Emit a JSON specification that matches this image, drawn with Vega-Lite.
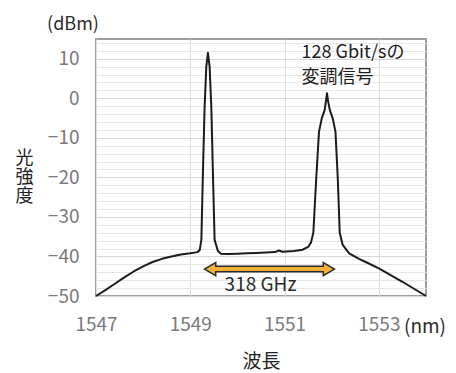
{
  "$schema": "https://vega.github.io/schema/vega-lite/v6.json",
  "width": 330,
  "height": 257,
  "autosize": "none",
  "padding": {"left": 96, "top": 39, "right": 30, "bottom": 77},
  "config": {
    "font": "Noto Sans CJK JP",
    "view": {"stroke": "#9e9e9e", "strokeWidth": 2},
    "axis": {"domain": false, "ticks": false, "labelFont": "Noto Sans CJK JP", "titleFont": "Noto Sans CJK JP", "labelColor": "#7a7a7a", "titleColor": "#222222", "titleFontWeight": "normal"}
  },
  "datasets": {
    "spectrum": [
      {"nm": 1547.0, "dB": -50.0},
      {"nm": 1547.2, "dB": -48.5},
      {"nm": 1547.4, "dB": -46.9},
      {"nm": 1547.6, "dB": -45.3},
      {"nm": 1547.8, "dB": -43.8},
      {"nm": 1548.0, "dB": -42.5},
      {"nm": 1548.2, "dB": -41.4},
      {"nm": 1548.4, "dB": -40.6},
      {"nm": 1548.6, "dB": -40.0},
      {"nm": 1548.8, "dB": -39.5},
      {"nm": 1549.0, "dB": -39.2},
      {"nm": 1549.15, "dB": -38.9},
      {"nm": 1549.2, "dB": -38.4},
      {"nm": 1549.235, "dB": -35.8},
      {"nm": 1549.268, "dB": -18.9},
      {"nm": 1549.304, "dB": -2.1},
      {"nm": 1549.34, "dB": 8.0},
      {"nm": 1549.374, "dB": 11.5},
      {"nm": 1549.41, "dB": 8.0},
      {"nm": 1549.446, "dB": -2.1},
      {"nm": 1549.48, "dB": -18.9},
      {"nm": 1549.516, "dB": -35.8},
      {"nm": 1549.586, "dB": -38.6},
      {"nm": 1549.65, "dB": -39.3},
      {"nm": 1549.8, "dB": -39.4},
      {"nm": 1550.0, "dB": -39.3},
      {"nm": 1550.2, "dB": -39.2},
      {"nm": 1550.4, "dB": -39.1},
      {"nm": 1550.6, "dB": -39.0},
      {"nm": 1550.8, "dB": -38.9},
      {"nm": 1550.88, "dB": -38.5},
      {"nm": 1550.95, "dB": -38.8},
      {"nm": 1551.2, "dB": -38.6},
      {"nm": 1551.38, "dB": -38.3},
      {"nm": 1551.5, "dB": -37.6},
      {"nm": 1551.56, "dB": -36.5},
      {"nm": 1551.61, "dB": -34.0},
      {"nm": 1551.67, "dB": -20.6},
      {"nm": 1551.73, "dB": -8.5},
      {"nm": 1551.79, "dB": -5.0},
      {"nm": 1551.85, "dB": -3.0},
      {"nm": 1551.88, "dB": -0.5},
      {"nm": 1551.9, "dB": 1.3},
      {"nm": 1551.92, "dB": -0.5},
      {"nm": 1551.96, "dB": -3.0},
      {"nm": 1552.02, "dB": -5.0},
      {"nm": 1552.08, "dB": -8.5},
      {"nm": 1552.13, "dB": -20.6},
      {"nm": 1552.17, "dB": -34.0},
      {"nm": 1552.23, "dB": -37.0},
      {"nm": 1552.37, "dB": -39.2},
      {"nm": 1552.58, "dB": -40.6},
      {"nm": 1552.72, "dB": -41.4},
      {"nm": 1553.0, "dB": -43.0},
      {"nm": 1553.5, "dB": -46.4},
      {"nm": 1554.0, "dB": -50.0}
    ],
    "arrow": [{"nm": 1549.45, "nm2": 1551.91, "dB": -43.2}],
    "heads": [
      {"nm": 1549.42, "dB": -43.2, "dir": "left"},
      {"nm": 1551.94, "dB": -43.2, "dir": "right"}
    ],
    "notes": [
      {"nm": 1551.36, "dB": 11.5, "label": "128 Gbit/sの"},
      {"nm": 1551.36, "dB": 5.1, "label": "変調信号"}
    ],
    "ghz": [{"nm": 1550.49, "dB": -47.2, "label": "318 GHz"}],
    "dbm": [{"nm": 1547.0, "dB": 15.0, "label": "(dBm)"}],
    "nmunit": [{"nm": 1554.0, "dB": -50.0, "label": "(nm)"}]
  },
  "encoding": {
    "x": {
      "field": "nm",
      "type": "quantitative",
      "scale": {"domain": [1547, 1554], "nice": false, "zero": false},
      "axis": {
        "title": "波長",
        "values": [1547, 1549, 1551, 1553],
        "format": "d",
        "labelFontSize": 19,
        "labelPadding": 19,
        "labelFlush": false,
        "titleFontSize": 19,
        "titlePadding": 18,
        "gridColor": "#dcdcdc",
        "gridWidth": 1
      }
    },
    "y": {
      "field": "dB",
      "type": "quantitative",
      "scale": {"domain": [-50, 15], "nice": false, "zero": false},
      "axis": {
        "title": ["光", "強", "度"],
        "titleAngle": 0,
        "titleAlign": "center",
        "titleBaseline": "top",
        "titleX": -72,
        "titleY": 110,
        "titleFontSize": 18,
        "titleLineHeight": 19,
        "values": [-50, -48, -46, -44, -42, -40, -38, -36, -34, -32, -30, -28, -26, -24, -22, -20, -18, -16, -14, -12, -10, -8, -6, -4, -2, 0, 2, 4, 6, 8, 10, 12, 14],
        "labelExpr": "datum.value % 10 === 0 ? datum.label : ''",
        "labelOverlap": false,
        "labelFlush": false,
        "labelFontSize": 19,
        "labelPadding": 17,
        "gridColor": {"condition": {"test": "datum.value % 10 === 0", "value": "#d6d6d6"}, "value": "#e6e6e6"},
        "gridWidth": 1
      }
    }
  },
  "layer": [
    {
      "data": {"name": "spectrum"},
      "mark": {"type": "line", "color": "#1c1c1c", "strokeWidth": 2, "strokeJoin": "round"}
    },
    {
      "data": {"name": "arrow"},
      "mark": {"type": "rule", "color": "#2a2a2a", "strokeWidth": 7},
      "encoding": {"x2": {"field": "nm2"}}
    },
    {
      "data": {"name": "heads"},
      "mark": {"type": "point", "filled": true, "fill": "#f3b138", "stroke": "#2a2a2a", "strokeWidth": 1.5, "opacity": 1, "size": 170},
      "encoding": {
        "shape": {"field": "dir", "type": "nominal", "scale": {"domain": ["left", "right"], "range": ["triangle-left", "triangle-right"]}, "legend": null}
      }
    },
    {
      "data": {"name": "arrow"},
      "mark": {"type": "rule", "color": "#f3b138", "strokeWidth": 4},
      "encoding": {"x2": {"field": "nm2"}}
    },
    {
      "data": {"name": "notes"},
      "mark": {"type": "text", "align": "left", "baseline": "middle", "fontSize": 18, "color": "#1c1c1c"},
      "encoding": {"text": {"field": "label"}}
    },
    {
      "data": {"name": "ghz"},
      "mark": {"type": "text", "align": "center", "baseline": "middle", "fontSize": 19, "color": "#2a2a2a"},
      "encoding": {"text": {"field": "label"}}
    },
    {
      "data": {"name": "dbm"},
      "mark": {"type": "text", "align": "center", "baseline": "middle", "fontSize": 18, "color": "#2a2a2a", "dx": -23, "dy": -14},
      "encoding": {"text": {"field": "label"}}
    },
    {
      "data": {"name": "nmunit"},
      "mark": {"type": "text", "align": "left", "baseline": "middle", "fontSize": 19, "color": "#2a2a2a", "dx": -22, "dy": 31},
      "encoding": {"text": {"field": "label"}}
    }
  ]
}
